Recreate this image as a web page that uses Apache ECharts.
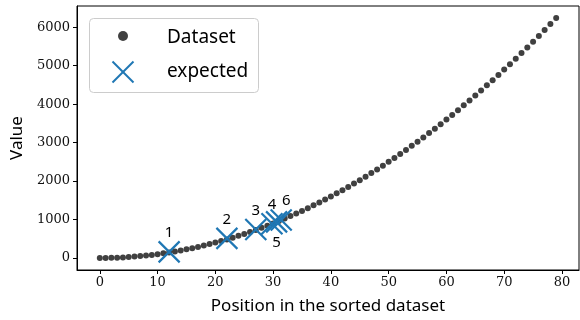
<!DOCTYPE html>
<html>
<head>
<meta charset="utf-8">
<script src="https://cdn.jsdelivr.net/npm/echarts@6/dist/echarts.min.js"></script>
<style>html,body{margin:0;padding:0;background:#fff}#c{width:580px;height:320px}</style>
</head>
<body>
<div id="c"></div>
<script>
var positions = [0,1,2,3,4,5,6,7,8,9,10,11,12,13,14,15,16,17,18,19,20,21,22,23,24,25,26,27,28,29,30,31,32,33,34,35,36,37,38,39,40,41,42,43,44,45,46,47,48,49,50,51,52,53,54,55,56,57,58,59,60,61,62,63,64,65,66,67,68,69,70,71,72,73,74,75,76,77,78,79];
var datasetValues = [0,1,4,9,16,25,36,49,64,81,100,121,144,169,196,225,256,289,324,361,400,441,484,529,576,625,676,729,784,841,900,961,1024,1089,1156,1225,1296,1369,1444,1521,1600,1681,1764,1849,1936,2025,2116,2209,2304,2401,2500,2601,2704,2809,2916,3025,3136,3249,3364,3481,3600,3721,3844,3969,4096,4225,4356,4489,4624,4761,4900,5041,5184,5329,5476,5625,5776,5929,6084,6241];
var expectedX = [12, 22, 27, 29.8, 30.6, 31.4];
var expectedY = [160, 510, 740, 890, 940, 990];
var expectedLabels = ['1','2','3','4','5','6'];
var xTicks = [0,10,20,30,40,50,60,70,80];
var yTicks = [0,1000,2000,3000,4000,5000,6000];

var chart = echarts.init(document.getElementById('c'));
var serif = 'DejaVu Serif';
var sans = 'Noto Sans';
var xPath = 'path://M0,0L10,10M10,0L0,10';

var dsData = positions.map(function(p,i){return [p, datasetValues[i]];});
var exData = expectedX.map(function(x,i){
  return {value:[x, expectedY[i]], name: expectedLabels[i],
    label: i===4 ? {position:'bottom', distance:2} : (i===5 ? {position:'top', offset:[5,0]} : {})};
});

chart.setOption({
  animation:false,
  grid:{left:77, right:1, top:6, bottom:50, show:true, borderColor:'#000', borderWidth:1, backgroundColor:'transparent', outerBoundsMode:'none', containLabel:false},
  xAxis:{type:'value', min:-3.95, max:82.95,
    name:'Position in the sorted dataset', nameLocation:'middle', nameGap:28,
    nameTextStyle:{fontFamily:sans, fontSize:17, color:'#000'},
    axisLine:{show:true, onZero:false, lineStyle:{color:'#000', width:1}},
    axisTick:{show:true, length:4, customValues:xTicks, lineStyle:{color:'#000'}},
    axisLabel:{customValues:xTicks, fontFamily:serif, fontSize:13, color:'#111', margin:6},
    splitLine:{show:false}},
  yAxis:{type:'value', min:-312, max:6553,
    name:'Value', nameLocation:'middle', nameGap:50,
    nameTextStyle:{fontFamily:sans, fontSize:17, color:'#000'},
    axisLine:{show:true, onZero:false, lineStyle:{color:'#000', width:1}},
    axisTick:{show:true, length:4, customValues:yTicks, lineStyle:{color:'#000'}},
    axisLabel:{customValues:yTicks, fontFamily:serif, fontSize:13, color:'#111', margin:7,
      formatter:function(v){return String(v);}},
    splitLine:{show:false}},
  graphic:[
    {type:'rect', left:89, top:18, z:100, shape:{width:169, height:74, r:4},
     style:{fill:'rgba(255,255,255,0.85)', stroke:'#cccccc', lineWidth:1}},
    {type:'circle', z:101, shape:{cx:123, cy:36, r:5}, style:{fill:'#404040'}},
    {type:'line', z:101, shape:{x1:112.5, y1:61.5, x2:133.5, y2:82.5}, style:{stroke:'#1f77b4', lineWidth:2}},
    {type:'line', z:101, shape:{x1:133.5, y1:61.5, x2:112.5, y2:82.5}, style:{stroke:'#1f77b4', lineWidth:2}},
    {type:'text', z:101, left:167, top:28, style:{text:'Dataset', font:'19px "Noto Sans"', fill:'#000'}},
    {type:'text', z:101, left:167, top:62, style:{text:'expected', font:'19px "Noto Sans"', fill:'#000'}}
  ],
  series:[
    {name:'Dataset', type:'scatter', data:dsData, symbol:'circle', symbolSize:6,
     itemStyle:{color:'#404040', opacity:1}, z:2},
    {name:'expected', type:'scatter', data:exData, symbol:xPath, symbolSize:21,
     itemStyle:{color:'#1f77b4', borderColor:'#1f77b4', borderWidth:2.2, opacity:1}, z:3,
     label:{show:true, position:'top', distance:0, formatter:'{b}', fontFamily:sans, fontSize:15, color:'#000'}}
  ]
});
</script>
</body>
</html>
